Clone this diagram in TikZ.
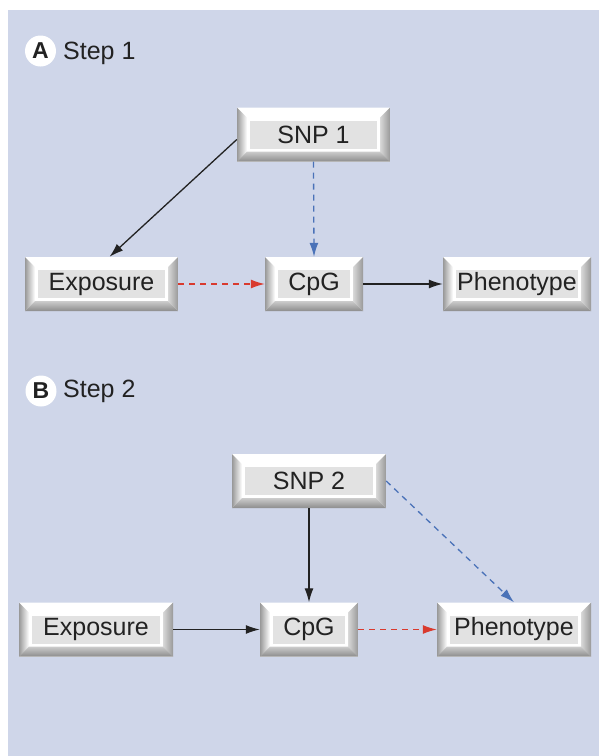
\documentclass[tikz,border=0pt]{standalone}
\usepackage{fontspec}
\setmainfont{Liberation Sans}
\usetikzlibrary{arrows.meta}
\definecolor{bgc}{HTML}{CFD6E9}
\definecolor{txt}{HTML}{222222}
\definecolor{dblue}{HTML}{4A72B8}
\definecolor{dred}{HTML}{D93A2E}
\definecolor{innerg}{HTML}{E2E2E2}
\tikzset{
  bevelbox/.style={inner sep=0pt, minimum height=54pt, fill=white, text=txt,
    font=\fontsize{25}{25}\selectfont,
    path picture={
      \fill[white] (path picture bounding box.north west) -- (path picture bounding box.north east)
        -- ([shift={(-10pt,-10pt)}]path picture bounding box.north east)
        -- ([shift={(10pt,-10pt)}]path picture bounding box.north west) -- cycle;
      \shade[left color=black!40, right color=white] (path picture bounding box.north west)
        -- ([shift={(10pt,-10pt)}]path picture bounding box.north west)
        -- ([shift={(10pt,10pt)}]path picture bounding box.south west)
        -- (path picture bounding box.south west) -- cycle;
      \shade[left color=black!15, right color=black!40] (path picture bounding box.north east)
        -- ([shift={(-10pt,-10pt)}]path picture bounding box.north east)
        -- ([shift={(-10pt,10pt)}]path picture bounding box.south east)
        -- (path picture bounding box.south east) -- cycle;
      \shade[top color=black!20, bottom color=black!45] (path picture bounding box.south west)
        -- ([shift={(10pt,10pt)}]path picture bounding box.south west)
        -- ([shift={(-10pt,10pt)}]path picture bounding box.south east)
        -- (path picture bounding box.south east) -- cycle;
      \fill[innerg] ([shift={(13pt,13pt)}]path picture bounding box.south west)
        rectangle ([shift={(-13pt,-13pt)}]path picture bounding box.north east);
    }},
  steplabel/.style={anchor=base west, inner sep=0pt, text=txt, font=\fontsize{25}{25}\selectfont},
  lettercirc/.style={circle, fill=white, minimum size=31pt, inner sep=0pt, text=txt, font=\bfseries\fontsize{23}{23}\selectfont},
  solidarr/.style={line width=1.3pt, draw=txt, -{Latex[length=14pt,width=9pt]}},
  bluearr/.style={line width=1.3pt, draw=dblue, dash pattern=on 6pt off 5pt, -{Latex[length=14pt,width=9pt,fill=dblue]}},
  redarr/.style={line width=1.3pt, draw=dred, dash pattern=on 6pt off 5pt, -{Latex[length=14pt,width=9pt,fill=dred]}},
}
\begin{document}
\begin{tikzpicture}[x=1pt,y=-1pt]
\useasboundingbox (0,0) rectangle (599,756);
\fill[white] (0,0) rectangle (599,756);
\fill[bgc] (8,10) rectangle (599,756);

% Panel A
\node[lettercirc] (la) at (40.5,51) {A};
\node[steplabel] (sa) at (63,59) {Step 1};
\node[bevelbox, minimum width=153pt] (snp1) at (313.5,134.5) {SNP 1};
\node[bevelbox, minimum width=153pt] (expA) at (101.5,284) {Exposure};
\node[bevelbox, minimum width=98pt] (cpgA) at (314,284) {CpG};
\node[bevelbox, minimum width=148pt] (phenA) at (517,284) {Phenotype};

\draw[solidarr] ([yshift=-5pt]snp1.west) -- ([xshift=8pt]expA.north);
\draw[bluearr] (snp1.south) -- (cpgA.north);
\draw[redarr] (expA.east) -- (cpgA.west);
\draw[solidarr] (cpgA.east) -- (phenA.west);

% Panel B
\node[lettercirc] (lb) at (41,391) {B};
\node[steplabel] (sb) at (63,397) {Step 2};
\node[bevelbox, minimum width=154pt] (snp2) at (309,481) {SNP 2};
\node[bevelbox, minimum width=154pt] (expB) at (96,629.5) {Exposure};
\node[bevelbox, minimum width=98pt] (cpgB) at (309,629.5) {CpG};
\node[bevelbox, minimum width=154pt] (phenB) at (514,629.5) {Phenotype};

\draw[solidarr] (snp2.south) -- (cpgB.north);
\draw[bluearr] (snp2.east) -- (phenB.north);
\draw[solidarr] (expB.east) -- (cpgB.west);
\draw[redarr] (cpgB.east) -- (phenB.west);
\end{tikzpicture}
\end{document}
